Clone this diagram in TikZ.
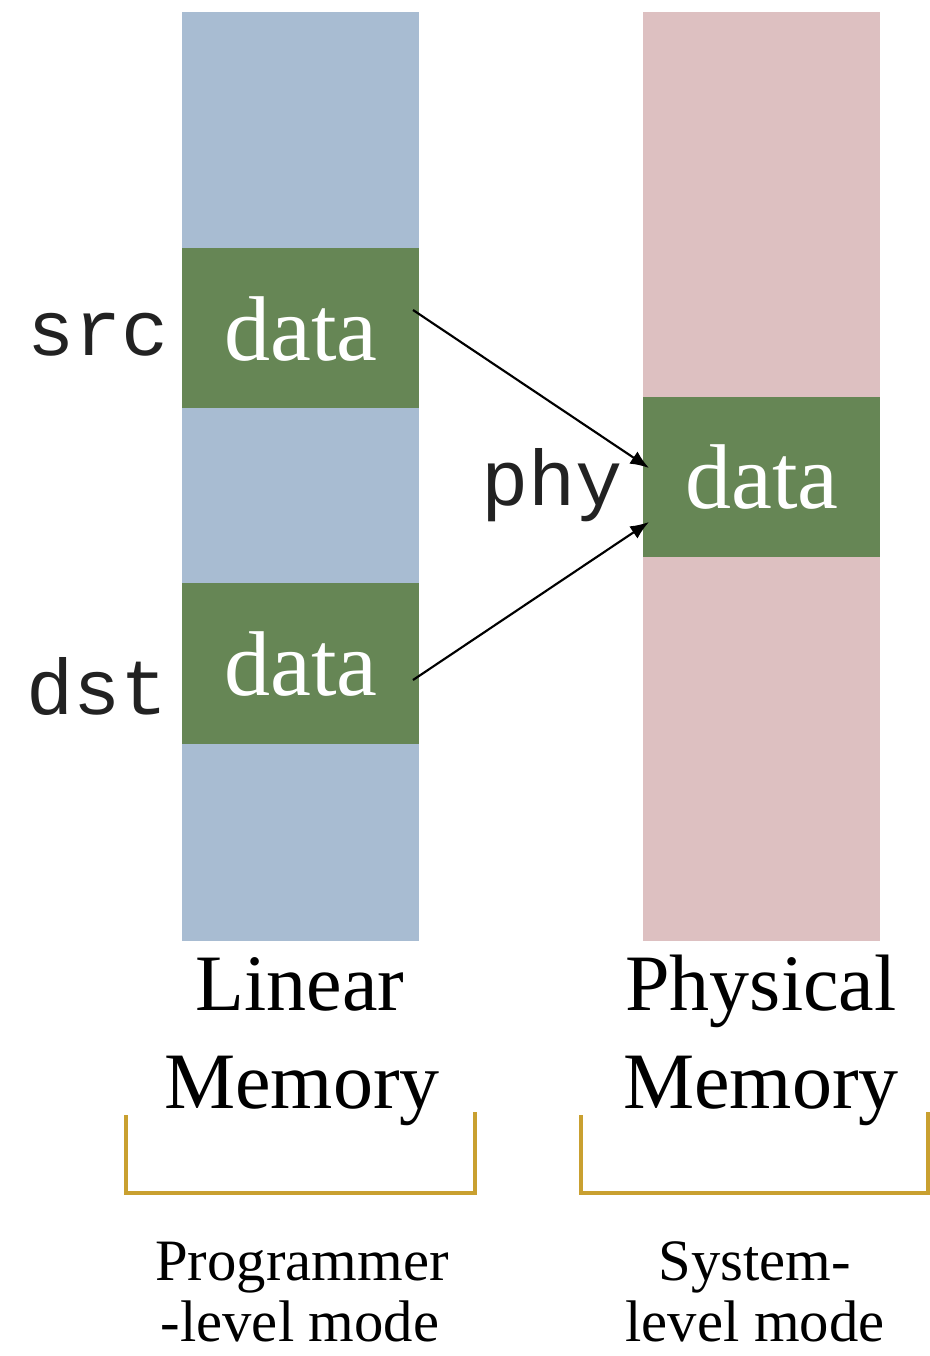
\documentclass[tikz,border=0pt]{standalone}
\usepackage{fontspec}
\setmainfont{Liberation Serif}
\setmonofont{Liberation Mono}
\usetikzlibrary{arrows.meta}
\definecolor{linblue}{RGB}{168,188,210}
\definecolor{phypink}{RGB}{221,192,193}
\definecolor{datagreen}{RGB}{102,134,85}
\definecolor{gold}{RGB}{201,160,48}
\definecolor{monogray}{RGB}{34,34,34}
\begin{document}
\begin{tikzpicture}[x=0.75pt,y=-0.75pt,
  datatxt/.style={anchor=base,text=white,font=\fontsize{69}{74}\selectfont,inner sep=0pt},
  monotxt/.style={anchor=base,text=monogray,font=\ttfamily\fontsize{59}{64}\selectfont,inner sep=0pt},
  bigtxt/.style={anchor=base,font=\fontsize{60}{72}\selectfont,inner sep=0pt},
  smalltxt/.style={anchor=base,font=\fontsize{44}{50}\selectfont,inner sep=0pt},
  bracket/.style={draw=gold,line width=2.4pt},
  conn/.style={-{Latex[length=14pt,width=11pt]},line width=1.6pt}]
\useasboundingbox (0,0) rectangle (930,1356);
% columns
\fill[linblue] (182,12) rectangle (419,941);
\fill[phypink] (643,12) rectangle (880,941);
% data blocks
\fill[datagreen] (182,248) rectangle (419,408);
\fill[datagreen] (182,583) rectangle (419,744);
\fill[datagreen] (643,397) rectangle (880,557);
\node[datatxt] (d1) at (301,360) {data};
\node[datatxt] (d2) at (301,695) {data};
\node[datatxt] (d3) at (762,508) {data};
% labels
\node[monotxt] (src) at (98,355) {src};
\node[monotxt] (dst) at (97,714) {dst};
\node[monotxt] (phy) at (552,505) {phy};
% arrows
\coordinate (a1) at (413,310);
\coordinate (a2) at (413,680);
\coordinate (b1) at (649,468);
\coordinate (b2) at (649,522);
\draw[conn] (a1) -- (b1);
\draw[conn] (a2) -- (b2);
% titles
\node[bigtxt] (lin1) at (300,1010) {Linear};
\node[bigtxt] (lin2) at (302,1108) {Memory};
\node[bigtxt] (phy1) at (761,1010) {Physical};
\node[bigtxt] (phy2) at (761,1108) {Memory};
% brackets
\draw[bracket] (126,1115) -- (126,1193) -- (475,1193) -- (475,1112);
\draw[bracket] (581,1115) -- (581,1193) -- (928,1193) -- (928,1112);
% modes
\node[smalltxt] (m1) at (302,1280) {Programmer};
\node[smalltxt] (m2) at (300,1341) {-level mode};
\node[smalltxt] (m3) at (755,1280) {System-};
\node[smalltxt] (m4) at (755,1341) {level mode};
\end{tikzpicture}
\end{document}
